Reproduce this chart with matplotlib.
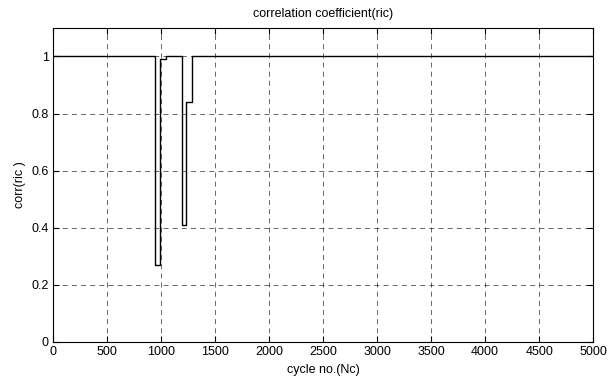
import matplotlib.pyplot as plt
from matplotlib.ticker import FuncFormatter

# step edges of the correlation trace (post-style steps)
cycle_edges = [0, 945, 990, 1045, 1190, 1235, 1290, 5000]
corr_values = [1.0, 0.27, 0.99, 1.0, 0.41, 0.84, 1.0, 1.0]

x_ticks = [0, 500, 1000, 1500, 2000, 2500, 3000, 3500, 4000, 4500, 5000]
y_ticks = [0, 0.2, 0.4, 0.6, 0.8, 1.0]

plt.rcParams["font.family"] = ["Liberation Sans", "DejaVu Sans"]
plt.rcParams["font.size"] = 9

fig = plt.figure(figsize=(6.16, 3.88), dpi=100)
ax = fig.add_axes([0.086, 0.119, 0.877, 0.809])

ax.step(cycle_edges, corr_values, where="post", color="black", linewidth=1.0)

ax.set_xlim(0, 5000)
ax.set_ylim(0, 1.1)
ax.set_xticks(x_ticks)
ax.set_yticks(y_ticks)
ax.yaxis.set_major_formatter(FuncFormatter(lambda v, _: f"{v:g}"))
ax.tick_params(direction="in", top=True, right=True, length=4, width=0.8, pad=3,
               labelsize=9)
ax.grid(True, color="black", linestyle=(0, (6, 5)), linewidth=0.6, alpha=0.7)
for s in ax.spines.values():
    s.set_linewidth(0.8)

ax.set_xlabel("cycle no.(Nc)", fontsize=9, labelpad=4)
ax.set_ylabel("corr(ric )", fontsize=9, labelpad=4)
ax.set_title("correlation coefficient(ric)", fontsize=9, pad=8)

fig.savefig("out.png", dpi=100)
